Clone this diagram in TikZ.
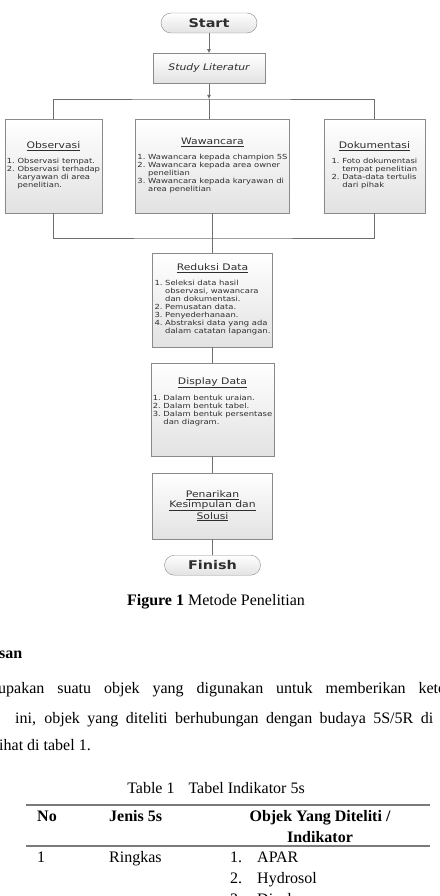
\documentclass[tikz,border=0pt]{standalone}
\usepackage{fontspec}
\setmainfont{Liberation Serif}
\newfontfamily\flowfont[FakeStretch=1.2]{DejaVu Sans}
\usepackage{xcolor}
\usepackage{tikz}
\usetikzlibrary{arrows.meta,positioning}
\definecolor{ink}{HTML}{2E2E2E}
\definecolor{edgegray}{HTML}{8A8A8A}
\definecolor{wiregray}{HTML}{6E6E6E}
\definecolor{shade}{HTML}{E2E2E2}
\definecolor{rulegray}{HTML}{7A7A7A}
\newcommand{\boxhead}[1]{{\fontsize{9}{11}\selectfont\underline{#1}}}
\tikzset{
  >=Latex,
  every node/.style={text=ink},
  stage/.style={draw=edgegray,top color=white,bottom color=shade,align=center,inner sep=2pt,font=\flowfont\fontsize{7}{8}\selectfont},
  term/.style={stage,rounded corners=10pt,minimum width=96pt,minimum height=20pt,font=\flowfont\bfseries\fontsize{12}{14}\selectfont},
  wire/.style={draw=wiregray,line width=0.9pt},
  flow/.style={wire,-{Latex[length=4pt,width=4pt]}},
  body/.style={font=\fontsize{16}{19}\selectfont,inner sep=0pt,text=black},
  bodybold/.style={body,font=\bfseries\fontsize{16}{19}\selectfont}
}

\begin{document}
\begin{tikzpicture}[x=1pt,y=-1pt,node distance=16pt]
  \useasboundingbox (0,0) rectangle (439,896);
  \fill[white] (0,0) rectangle (439,896);
  \clip (0,0) rectangle (439,896);

  % flowchart
  \node[term] (start) at (209,23) {Start};
  \node[stage,minimum width=112pt,minimum height=30pt,below=20pt of start,font=\flowfont\itshape\fontsize{9}{11}\selectfont] (study) {Study Literatur};
  \node[stage,minimum width=151pt,minimum height=94pt] (waw) at (212.5,166) {\boxhead{Wawancara}\\[6pt]
    \begin{tabular}{@{}l@{\ }l@{}}1.&Wawancara kepada champion 5S\\2.&Wawancara kepada area owner\\&penelitian\\3.&Wawancara kepada karyawan di\\&area penelitian\end{tabular}};
  \node[stage,minimum width=97pt,minimum height=94pt,left=33pt of waw] (obs) {\boxhead{Observasi}\\[6pt]
    \begin{tabular}{@{}l@{\ }l@{}}1.&Observasi tempat.\\2.&Observasi terhadap\\&karyawan di area\\&penelitian.\end{tabular}};
  \node[stage,minimum width=101pt,minimum height=94pt,right=34pt of waw] (dok) {\boxhead{Dokumentasi}\\[6pt]
    \begin{tabular}{@{}l@{\ }l@{}}1.&Foto dokumentasi\\&tempat penelitian\\2.&Data-data tertulis\\&dari pihak\end{tabular}};
  \node[stage,minimum width=117pt,minimum height=94pt] (red) at (212.5,300) {\boxhead{Reduksi Data}\\[6pt]
    \begin{tabular}{@{}l@{\ }l@{}}1.&Seleksi data hasil\\&observasi, wawancara\\&dan dokumentasi.\\2.&Pemusatan data.\\3.&Penyederhanaan.\\4.&Abstraksi data yang ada\\&dalam catatan lapangan.\end{tabular}};
  \node[stage,minimum width=120pt,minimum height=93pt,below=of red] (disp) {\boxhead{Display Data}\\[6pt]
    \begin{tabular}{@{}l@{\ }l@{}}1.&Dalam bentuk uraian.\\2.&Dalam bentuk tabel.\\3.&Dalam bentuk persentase\\&dan diagram.\end{tabular}\\[14pt]};
  \node[stage,minimum width=120pt,minimum height=66pt,below=of disp,font=\flowfont\fontsize{9}{10}\selectfont] (tarik) {\underline{Penarikan}\\\underline{Kesimpulan dan}\\\underline{Solusi}};
  \node[term,below=of tarik] (finish) {Finish};

  \coordinate (fork) at (209,99);
  \coordinate (join) at (212.5,238);
  \draw[flow] (start) -- (study);
  \draw[flow] (study) -- (fork);
  \draw[wire] (fork) -- (study |- waw.north);
  \draw[wire] (obs.north) |- (fork) -| (dok.north);
  \draw[wire] (obs.south) |- (join) -| (dok.south);
  \draw[wire] (waw.south) -- (red.north);
  \draw[wire] (red) -- (disp);
  \draw[wire] (disp) -- (tarik);
  \draw[wire] (tarik) -- (finish);

  % caption and text
  \node[body,anchor=base] (figcap) at (216,605) {\textbf{Figure 1} Metode Penelitian};
  \node[bodybold,anchor=base west] (sechead) at (-1,658) {san};
  \node[body,anchor=base west] (para1) at (-2,693) {\makebox[447pt][s]{upakan suatu objek yang digunakan untuk memberikan kete}};
  \node[body,anchor=base west] (para2) at (15,723) {\makebox[418pt][s]{ini, objek yang diteliti berhubungan dengan budaya 5S/5R di}};
  \node[body,anchor=base west] (para3) at (-1,750) {ihat di tabel 1.};

  % table
  \node[body,anchor=base] (tabcap) at (216,793) {Table 1\hspace{14pt}Tabel Indikator 5s};
  \draw[rulegray,line width=1.2pt] (26,805) -- (430,805);
  \node[bodybold,anchor=base west] (hno) at (37,821) {No};
  \node[bodybold,anchor=base west] (hjenis) at (109,821) {Jenis 5s};
  \node[bodybold,anchor=base] (hobjek) at (320,821) {Objek Yang Diteliti /};
  \node[bodybold,anchor=base] (hindik) at (320,842) {Indikator};
  \draw[rulegray,line width=1.2pt] (26,846) -- (430,846);
  \node[body,anchor=base west] (no1) at (37,862) {1};
  \node[body,anchor=base west] (jenis1) at (109,862) {Ringkas};
  \node[body,anchor=base west] (num1) at (230,862) {1.};
  \node[body,anchor=base west] (ind1) at (257,862) {APAR};
  \node[body,anchor=base west] (num2) at (230,883) {2.};
  \node[body,anchor=base west] (ind2) at (257,883) {Hydrosol};
  \node[body,anchor=base west] (num3) at (230,904) {3.};
  \node[body,anchor=base west] (ind3) at (257,904) {Display};
\end{tikzpicture}
\end{document}
